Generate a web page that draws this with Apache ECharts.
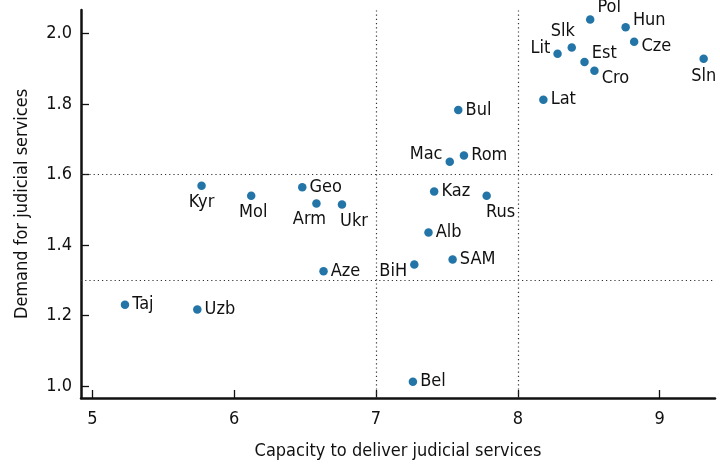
<!DOCTYPE html>
<html>
<head>
<meta charset="utf-8">
<script src="https://cdn.jsdelivr.net/npm/echarts@6/dist/echarts.min.js"></script>
<style>
  html, body { margin: 0; padding: 0; background: #fff; }
  #main { width: 720px; height: 466px; }
</style>
</head>
<body>
<div id="main"></div>
<script>
// 国家简称
const countries = ['Kyr', 'Mol', 'Geo', 'Arm', 'Ukr', 'Pol', 'Hun', 'Slk', 'Lit', 'Est', 'Cze', 'Cro', 'Sln',
    'Lat', 'Bul', 'Mac', 'Rom', 'Kaz', 'Rus', 'Alb', 'Taj', 'Uzb', 'Aze', 'BiH', 'SAM', 'Bel'];
// 司法服务能力 (x)
const capacity = [5.77, 6.12, 6.48, 6.58, 6.76, 8.51, 8.76, 8.38, 8.28, 8.47, 8.82, 8.54, 9.31,
    8.18, 7.58, 7.52, 7.62, 7.41, 7.78, 7.37, 5.23, 5.74, 6.63, 7.27, 7.54, 7.26];
// 司法服务需求 (y)
const demand = [1.568, 1.540, 1.564, 1.518, 1.515, 2.039, 2.017, 1.960, 1.942, 1.919, 1.976, 1.894, 1.928,
    1.812, 1.783, 1.636, 1.654, 1.552, 1.540, 1.436, 1.231, 1.218, 1.326, 1.345, 1.359, 1.013];
// 刻度
const xTicks = [5, 6, 7, 8, 9];
const yTicks = [1.0, 1.2, 1.4, 1.6, 1.8, 2.0];
// 分隔虚线
const xCuts = [7, 8];
const yCuts = [1.6, 1.3];

// 标签位置 (默认在右边)
const labelPlace = {
    Kyr: ['bottom', [0, 0]],
    Mol: ['bottom', [2, 0]],
    Arm: ['bottom', [-7, 0]],
    Ukr: ['bottom', [12, 1]],
    Pol: ['right', [0, -12]],
    Hun: ['right', [0, -7]],
    Slk: ['top', [-9, 0]],
    Lit: ['left', [0, -5]],
    Est: ['right', [0, -9]],
    Cze: ['right', [0, 5]],
    Cro: ['right', [0, 8]],
    Sln: ['bottom', [0, 1]],
    Mac: ['left', [0, -7]],
    Rus: ['bottom', [14, 0]],
    BiH: ['left', [0, 7]]
};

const font = "'DejaVu Sans Condensed', 'Liberation Sans Narrow', sans-serif";
const ink = '#111';

const points = countries.map(function (name, i) {
    const place = labelPlace[name] || ['right', [0, 0]];
    return {
        name: name,
        value: [capacity[i], demand[i]],
        label: { position: place[0], offset: place[1] }
    };
});

const cutLines = xCuts.map(function (v) { return { xAxis: v }; })
    .concat(yCuts.map(function (v) { return { yAxis: v }; }));

const myChart = echarts.init(document.getElementById('main'));

const option = {
    animation: false,
    textStyle: { fontFamily: font },
    grid: { left: 81, right: 5, top: 10, bottom: 68 },
    xAxis: {
        type: 'value',
        min: 4.92,
        max: 9.39,
        name: 'Capacity to deliver judicial services',
        nameLocation: 'middle',
        nameGap: 44,
        nameTextStyle: { fontSize: 18, color: ink, fontFamily: font },
        splitLine: { show: false },
        axisLine: { show: true, lineStyle: { color: ink, width: 2.5 } },
        axisTick: { show: true, inside: true, length: 8, customValues: xTicks, lineStyle: { color: ink, width: 1.3 } },
        axisLabel: { customValues: xTicks, fontSize: 18, color: ink, margin: 12, fontFamily: font }
    },
    yAxis: {
        type: 'value',
        min: 0.967,
        max: 2.066,
        name: 'Demand for judicial services',
        nameLocation: 'middle',
        nameGap: 50,
        nameTextStyle: { fontSize: 18, color: ink, fontFamily: font },
        splitLine: { show: false },
        axisLine: { show: true, lineStyle: { color: ink, width: 2.5 } },
        axisTick: { show: true, inside: true, length: 8, customValues: yTicks, lineStyle: { color: ink, width: 1.3 } },
        axisLabel: {
            customValues: yTicks, fontSize: 18, color: ink, margin: 9, fontFamily: font,
            formatter: function (v) { return v.toFixed(1); }
        }
    },
    series: [{
        type: 'scatter',
        symbolSize: 8.5,
        itemStyle: { color: '#2375a8', opacity: 1 },
        label: {
            show: true,
            formatter: '{b}',
            fontSize: 18,
            color: ink,
            distance: 3,
            fontFamily: font
        },
        data: points,
        markLine: {
            silent: true,
            symbol: 'none',
            label: { show: false },
            lineStyle: { color: '#333', width: 1.2, type: [1.2, 3], opacity: 1 },
            data: cutLines
        }
    }]
};

myChart.setOption(option);
</script>
</body>
</html>
